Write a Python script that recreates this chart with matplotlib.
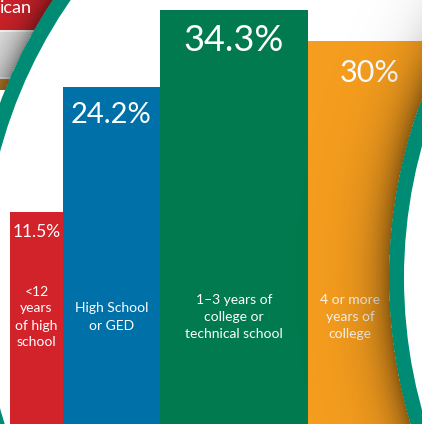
import numpy as np
import matplotlib
matplotlib.use('Agg')
import matplotlib.pyplot as plt
from matplotlib.patches import Circle, Rectangle

# ---------------- data ----------------
categories = ["<12\nyears\nof high\nschool",
              "High School\nor GED",
              "1\u20133 years of\ncollege or\ntechnical school",
              "4 or more\nyears of\ncollege"]
values = [11.5, 24.2, 34.3, 30.0]
value_labels = ["11.5%", "24.2%", "34.3%", "30%"]
band_text = "ican"

# ---------------- layout / style ----------------
W, H = 422, 424
bar_left = [10, 63, 160, 308]
bar_width = [53, 97, 148, 123]
bar_colors = ['#D2232B', '#0071A8', '#007A4E', '#F59D1E']
value_size = [12.5, 21, 26, 22]
value_drop = [25, 36, 41, 41]          # px from bar top to text baseline
cat_x = [36.5, 111.5, 234, 350]
cat_y = 317
teal = '#008B74'
FONT = 'Lato'

fig = plt.figure(figsize=(W / 100, H / 100), dpi=100)

# background layer (pixel coordinates)
ax_bg = fig.add_axes([0, 0, 1, 1])
ax_bg.set_xlim(0, W)
ax_bg.set_ylim(H, 0)
ax_bg.axis('off')

# bands of the neighbouring panel
ax_bg.add_patch(Rectangle((0, 0), W, 30, color='#D2232B', zorder=1, lw=0))
ax_bg.add_patch(Rectangle((0, 32), W, 45, color='#E6E6E6', zorder=1, lw=0))
ax_bg.add_patch(Rectangle((0, 79), W, 11, color='#D08A2A', zorder=1, lw=0))
ax_bg.text(0, 8, band_text, ha='left', va='center', color='white',
           fontsize=13, family=FONT, zorder=5)

yy, xx = np.mgrid[0:H, 0:W] + 0.5
cL = (474, 280)
cR = (896, 278)
R_out, R_in = 506, 491

dL = np.hypot(xx - cL[0], yy - cL[1]) - R_out
aL = np.where((dL > 0) & (yy < 90), 0.42 * np.exp(-np.clip(dL, 0, None) / 16), 0)
shadowL = np.zeros((H, W, 4))
shadowL[..., 3] = aL
ax_bg.imshow(shadowL, extent=(0, W, H, 0), zorder=2, interpolation='bilinear')
ax_bg.add_patch(Circle(cL, R_out, color=teal, zorder=3, lw=0))
ax_bg.add_patch(Circle(cL, R_in, color='white', zorder=4, lw=0))
ax_bg.set_xlim(0, W)
ax_bg.set_ylim(H, 0)

# bar layer
ax = fig.add_axes([0, 0, 1, 1])
ax.patch.set_alpha(0)
ax.set_yscale('function', functions=(lambda v: np.sqrt(np.clip(v, 0, None)),
                                     lambda s: np.square(s)))
a_px, b_px = 490.8, 82.12
ax.set_ylim(((a_px - H) / b_px) ** 2, (a_px / b_px) ** 2)
ax.set_xlim(0, W)
ax.axis('off')

ax.bar(bar_left, values, width=bar_width, align='edge', color=bar_colors,
       linewidth=0, zorder=2)

for i, (v, lab) in enumerate(zip(values, value_labels)):
    cx = bar_left[i] + bar_width[i] / 2
    if i == 3:
        cx = 369.5
    ax.annotate(lab, xy=(cx, v), xytext=(0, -value_drop[i]),
                textcoords='offset pixels', ha='center', va='baseline',
                color='white', fontsize=value_size[i], family=FONT, zorder=5)

for i, cat in enumerate(categories):
    ax.text(cat_x[i], cat_y, cat, transform=ax_bg.transData, ha='center',
            va='center', multialignment='center', color='white',
            alpha=0.93 if i == 3 else 1.0,
            fontsize=10, family=FONT, linespacing=1.5, zorder=5)

# foreground layer: right circle with its shadow
ax_fg = fig.add_axes([0, 0, 1, 1])
ax_fg.patch.set_alpha(0)
ax_fg.set_xlim(0, W)
ax_fg.set_ylim(H, 0)
ax_fg.axis('off')
dR = np.hypot(xx - cR[0], yy - cR[1]) - (R_out + 1)
aR = np.where(dR > 0, 0.42 * np.exp(-np.clip(dR, 0, None) / 20), 0)
shadowR = np.zeros((H, W, 4))
shadowR[..., 3] = aR
ax_fg.imshow(shadowR, extent=(0, W, H, 0), zorder=1, interpolation='bilinear')
ax_fg.add_patch(Circle(cR, R_out + 1, color=teal, zorder=2, lw=0))
ax_fg.add_patch(Circle(cR, R_in + 1, color='white', zorder=3, lw=0))
ax_fg.set_xlim(0, W)
ax_fg.set_ylim(H, 0)

fig.savefig('out.png', dpi=100)
